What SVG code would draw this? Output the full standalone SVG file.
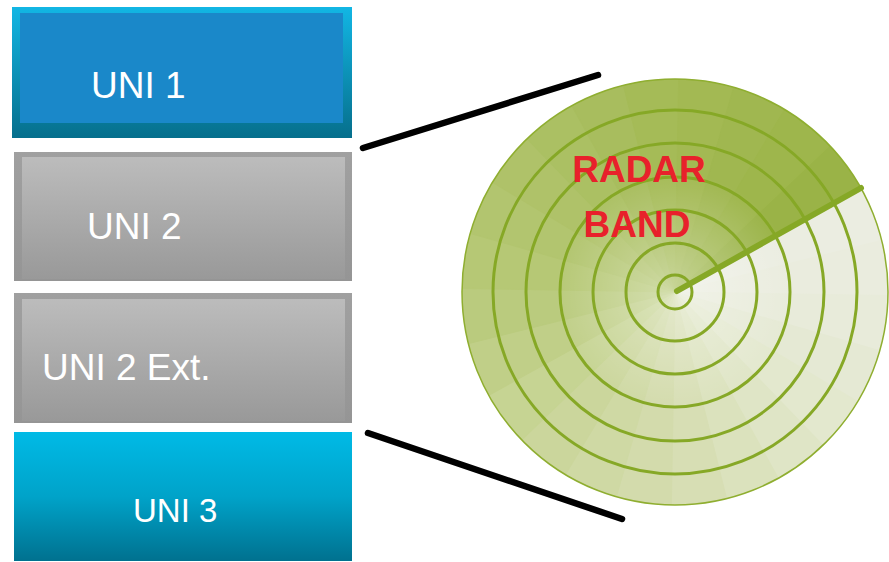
<svg xmlns="http://www.w3.org/2000/svg" xmlns:xlink="http://www.w3.org/1999/xlink" width="889" height="562" viewBox="0 0 889 562">
<style>
.lbl{font-family:"Liberation Sans",Arial,sans-serif;fill:#ffffff;font-size:37px}
.radar-lbl{font-family:"Liberation Sans",Arial,sans-serif;fill:#e8212b;font-size:37px;font-weight:bold;text-anchor:middle}
.ring{fill:none;stroke:#86a826;stroke-width:3}
.conn{stroke:#000;stroke-width:6.5;stroke-linecap:round;fill:none}
.wd{stroke-width:1.2}
</style>
<defs>
<linearGradient id="blueTop" x1="0" y1="0" x2="0" y2="1">
<stop offset="0" stop-color="#12b6e4"/>
<stop offset="1" stop-color="#066f8c"/>
</linearGradient>
<linearGradient id="cyan" x1="0" y1="0" x2="0" y2="1">
<stop offset="0" stop-color="#00bae6"/>
<stop offset="0.5" stop-color="#00a3c9"/>
<stop offset="1" stop-color="#00718f"/>
</linearGradient>
<linearGradient id="grayOuter" x1="0" y1="0" x2="0" y2="1">
<stop offset="0" stop-color="#a0a0a0"/>
<stop offset="1" stop-color="#959595"/>
</linearGradient>
<linearGradient id="grayInner" x1="0" y1="0" x2="0" y2="1">
<stop offset="0" stop-color="#bcbcbc"/>
<stop offset="1" stop-color="#999999"/>
</linearGradient>
<radialGradient id="glow" cx="675" cy="292" r="120" gradientUnits="userSpaceOnUse">
<stop offset="0" stop-color="#ffffff" stop-opacity="0.4"/>
<stop offset="1" stop-color="#ffffff" stop-opacity="0"/>
</radialGradient>
<clipPath id="disk"><circle cx="675" cy="292" r="213"/></clipPath>
<path id="w" d="M675,292 L905,292 A230,230 0 0,1 896.63,353.47 Z"/>
</defs>

<g id="uni1">
<rect x="12" y="7" width="340" height="131" fill="url(#blueTop)"/>
<rect x="20" y="13" width="323" height="110" fill="#1a88c9"/>
<text class="lbl" x="91" y="98">UNI 1</text>
</g>

<g id="uni2">
<rect x="14" y="152" width="338" height="129" fill="url(#grayOuter)"/>
<rect x="22" y="157" width="323" height="122" fill="url(#grayInner)"/>
<text class="lbl" x="87" y="239">UNI 2</text>
</g>

<g id="uni2ext">
<rect x="14" y="293" width="338" height="130" fill="url(#grayOuter)"/>
<rect x="22" y="299" width="323" height="122" fill="url(#grayInner)"/>
<text class="lbl" x="42" y="380">UNI 2 Ext.</text>
</g>

<g id="uni3">
<rect x="14" y="432" width="338" height="129" fill="url(#cyan)"/>
<text class="lbl" x="133" y="522" style="font-size:33px">UNI 3</text>
</g>

<g id="radar">
<g clip-path="url(#disk)">
<circle cx="675" cy="292" r="213" fill="#c5d392"/>
<use class="wd" href="#w" fill="#9ab347" stroke="#9ab347" transform="rotate(316 675 292)"/>
<use class="wd" href="#w" fill="#ebede1" stroke="#ebede1" transform="rotate(-29 675 292)"/>
<use class="wd" href="#w" fill="#eaecde" stroke="#eaecde" transform="rotate(-14 675 292)"/>
<use class="wd" href="#w" fill="#e8ebda" stroke="#e8ebda" transform="rotate(1 675 292)"/>
<use class="wd" href="#w" fill="#e5e9d4" stroke="#e5e9d4" transform="rotate(16 675 292)"/>
<use class="wd" href="#w" fill="#e3e8ce" stroke="#e3e8ce" transform="rotate(31 675 292)"/>
<use class="wd" href="#w" fill="#dfe5c6" stroke="#dfe5c6" transform="rotate(46 675 292)"/>
<use class="wd" href="#w" fill="#dbe2bd" stroke="#dbe2bd" transform="rotate(61 675 292)"/>
<use class="wd" href="#w" fill="#d7deb4" stroke="#d7deb4" transform="rotate(76 675 292)"/>
<use class="wd" href="#w" fill="#d3dbac" stroke="#d3dbac" transform="rotate(91 675 292)"/>
<use class="wd" href="#w" fill="#cfd9a4" stroke="#cfd9a4" transform="rotate(106 675 292)"/>
<use class="wd" href="#w" fill="#cbd69c" stroke="#cbd69c" transform="rotate(121 675 292)"/>
<use class="wd" href="#w" fill="#c6d493" stroke="#c6d493" transform="rotate(136 675 292)"/>
<use class="wd" href="#w" fill="#c0cf88" stroke="#c0cf88" transform="rotate(151 675 292)"/>
<use class="wd" href="#w" fill="#bacb7e" stroke="#bacb7e" transform="rotate(166 675 292)"/>
<use class="wd" href="#w" fill="#b6c875" stroke="#b6c875" transform="rotate(181 675 292)"/>
<use class="wd" href="#w" fill="#b2c56f" stroke="#b2c56f" transform="rotate(196 675 292)"/>
<use class="wd" href="#w" fill="#afc269" stroke="#afc269" transform="rotate(211 675 292)"/>
<use class="wd" href="#w" fill="#abc063" stroke="#abc063" transform="rotate(226 675 292)"/>
<use class="wd" href="#w" fill="#a8bd5e" stroke="#a8bd5e" transform="rotate(241 675 292)"/>
<use class="wd" href="#w" fill="#a5bb57" stroke="#a5bb57" transform="rotate(256 675 292)"/>
<use class="wd" href="#w" fill="#a3b953" stroke="#a3b953" transform="rotate(271 675 292)"/>
<use class="wd" href="#w" fill="#a0b750" stroke="#a0b750" transform="rotate(286 675 292)"/>
<use class="wd" href="#w" fill="#9eb64c" stroke="#9eb64c" transform="rotate(301 675 292)"/>
<circle cx="675" cy="292" r="213" fill="url(#glow)"/>
</g>
<circle cx="675" cy="292" r="213" fill="none" stroke="#8fae30" stroke-width="1.5"/>
<circle class="ring" cx="675" cy="292" r="17"/>
<circle class="ring" cx="675" cy="292" r="49"/>
<circle class="ring" cx="675" cy="292" r="82"/>
<circle class="ring" cx="675" cy="292" r="115"/>
<circle class="ring" cx="675" cy="292" r="149"/>
<circle class="ring" cx="675" cy="292" r="182"/>
<line x1="677" y1="291" x2="861" y2="188" stroke="#86a826" stroke-width="6" stroke-linecap="round"/>
<text class="radar-lbl" x="639" y="182">RADAR</text>
<text class="radar-lbl" x="637" y="237">BAND</text>
</g>

<g id="connectors">
<line class="conn" x1="363" y1="148" x2="598" y2="75"/>
<line class="conn" x1="368" y1="433" x2="622" y2="519"/>
</g>
</svg>
